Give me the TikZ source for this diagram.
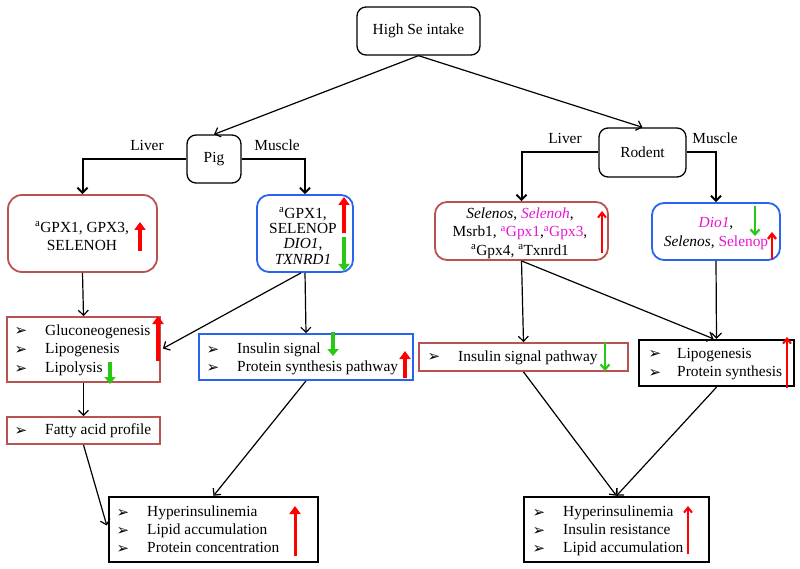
\documentclass[tikz,border=0pt]{standalone}
\usepackage{fontspec}
\setmainfont{Liberation Serif}
\newfontfamily\dvfont{DejaVu Sans}
\usetikzlibrary{arrows.meta,calc}
\definecolor{boxred}{RGB}{185,82,80}
\definecolor{boxblue}{RGB}{40,100,240}
\definecolor{mag}{RGB}{230,20,210}
\definecolor{arrred}{RGB}{255,0,0}
\definecolor{arrgreen}{RGB}{40,200,20}
\newcommand\bul{{\dvfont\fontsize{15}{15}\selectfont ➢}}
\begin{document}
\begin{tikzpicture}[x=1pt,y=-1pt,
  every node/.style={font=\fontsize{15.4}{18}\selectfont},
  rbox/.style={draw=boxred, line width=1.8pt, rounded corners=14pt, inner sep=0},
  bbox/.style={draw=boxblue, line width=1.8pt, rounded corners=12pt, inner sep=0},
  sqred/.style={draw=boxred, line width=1.8pt, inner sep=0},
  sqblue/.style={draw=boxblue, line width=1.8pt, inner sep=0},
  sqblack/.style={draw=black, line width=2.4pt, inner sep=0},
  kbox/.style={draw=black, line width=1.3pt, rounded corners=9pt, inner sep=0},
  conn/.style={line width=1.2pt, -{Straight Barb[length=5pt,width=10pt]}},
  branch/.style={line width=2pt, -{Straight Barb[length=5pt,width=10pt]}},
  lst/.style={anchor=west, inner sep=0, text height=10.5pt, text depth=3.5pt},
  bull/.style={inner sep=0},
  lbl/.style={inner sep=0},
  redthick/.style={draw=arrred, line width=3.5pt, -{Triangle[length=8pt,width=11pt]}},
  redthin/.style={draw=arrred, line width=2pt, -{Straight Barb[length=5pt,width=8pt]}},
  greenthick/.style={draw=arrgreen, line width=3.2pt, -{Triangle[length=7pt,width=11pt]}},
  greenthin/.style={draw=arrgreen, line width=2.2pt, -{Straight Barb[length=5pt,width=9pt]}}
]
\useasboundingbox (0,0) rectangle (800,569);

% top boxes
\node[kbox, minimum width=123pt, minimum height=48pt] (high) at (418.5,31) {High Se intake};
\node[kbox, minimum width=54pt, minimum height=48pt] (pig) at (214,159) {Pig};
\node[kbox, minimum width=87pt, minimum height=49pt] (rod) at (642.5,152.5) {Rodent};

% labels
\node[lbl] (l1) at (147,145) {Liver};
\node[lbl] (m1) at (277,145) {Muscle};
\node[lbl] (l2) at (565,138) {Liver};
\node[lbl] (m2) at (715,138) {Muscle};

% pig boxes
\node[rbox, minimum width=149pt, minimum height=77pt] (pl) at (82.5,233.5) {};
\node[bbox, minimum width=96pt, minimum height=77pt] (pm) at (305,233.5) {};
\node[sqred, minimum width=153pt, minimum height=65pt] (gl) at (83.5,349.5) {};
\node[sqblue, minimum width=214pt, minimum height=46pt] (is) at (306,357) {};
\node[sqred, minimum width=153pt, minimum height=27pt] (fa) at (83.5,430.5) {};
\node[sqblack, minimum width=209pt, minimum height=65pt] (bl) at (213.5,529.5) {};

% rodent boxes
\node[rbox, rounded corners=12pt, minimum width=173pt, minimum height=58pt] (rl) at (521.5,231) {};
\node[bbox, minimum width=128pt, minimum height=57pt] (rm) at (716,231.5) {};
\node[sqred, minimum width=209pt, minimum height=28pt] (rip) at (523.5,357) {};
\node[sqblack, minimum width=155pt, minimum height=46pt] (lp) at (716.5,363) {};
\node[sqblack, minimum width=185pt, minimum height=65pt] (br) at (616.5,529.5) {};

% box texts
\node[align=center, inner sep=0] (t1) at (82,236) {\textsuperscript{a}GPX1, GPX3,\\SELENOH};
\node[align=center, inner sep=0, font=\fontsize{15.4}{15.3}\selectfont] (t2) at (303,236) {\textsuperscript{a}GPX1,\\SELENOP\\\textit{DIO1},\\\textit{TXNRD1}};
\node[align=center, inner sep=0, font=\fontsize{15.4}{18.5}\selectfont] (t3) at (520,233) {\textit{Selenos}, \textcolor{mag}{\textit{Selenoh}},\\Msrb1, \textcolor{mag}{\textsuperscript{a}Gpx1},\textcolor{mag}{\textsuperscript{a}Gpx3},\\\textsuperscript{a}Gpx4, \textsuperscript{a}Txnrd1};
\node[align=center, inner sep=0, font=\fontsize{15.4}{19}\selectfont] (t4) at (716,234) {\textcolor{mag}{\textit{Dio1}},\\\textit{Selenos}, \textcolor{mag}{Selenop}};

% bullet lists
\foreach \y/\t [count=\i] in {332/Gluconeogenesis,350/Lipogenesis,369/Lipolysis}{
  \node[bull] (gb\i) at (21,\y) {\bul};
  \node[lst] (gt\i) at (45,\y) {\t};
}
\node[bull] (fb) at (21,431) {\bul};
\node[lst] (ft) at (45,431) {Fatty acid profile};
\foreach \y/\t [count=\i] in {350/Insulin signal,368/Protein synthesis pathway}{
  \node[bull] (ib\i) at (213,\y) {\bul};
  \node[lst] (it\i) at (237,\y) {\t};
}
\foreach \y/\t [count=\i] in {513/Hyperinsulinemia,531/Lipid accumulation,549/Protein concentration}{
  \node[bull] (bb\i) at (123,\y) {\bul};
  \node[lst] (bt\i) at (147,\y) {\t};
}
\node[bull] (rb) at (434,358) {\bul};
\node[lst] (rt) at (458,358) {Insulin signal pathway};
\foreach \y/\t [count=\i] in {355/Lipogenesis,373/Protein synthesis}{
  \node[bull] (lb\i) at (655,\y) {\bul};
  \node[lst] (lt\i) at (677,\y) {\t};
}
\foreach \y/\t [count=\i] in {513/Hyperinsulinemia,531/Insulin resistance,549/Lipid accumulation}{
  \node[bull] (cb\i) at (539,\y) {\bul};
  \node[lst] (ct\i) at (563,\y) {\t};
}

% connectors
\draw[conn] (high.south) -- (pig.north);
\draw[conn] (high.south) -- (rod.north);
\draw[branch] (pig.west) -| (pl.north);
\draw[branch] (pig.east) -| (pm.north);
\draw[branch] (rod.west) -| (rl.north);
\draw[branch] (rod.east) -| (rm.north);
\draw[conn] (pl.south) -- (gl.north);
\draw[conn] ($(pm.south)+(-4,0)$) -- ($(gl.east)+(2,-1)$);
\draw[conn] (pm.south) -- (is.north);
\draw[conn] (gl.south) -- (fa.north);
\draw[conn] (fa.south) -- ($(bl.west)+(-1,-4)$);
\draw[conn] (is.south) -- (bl.north);
\draw[conn] (rl.south) -- (rip.north);
\draw[conn] (rl.south) -- ($(lp.north)+(-3,0)$);
\draw[conn] (rm.south) -- (lp.north);
\draw[conn] (rip.south) -- (br.north);
\draw[conn] (lp.south) -- (br.north);

% indicator arrows
\draw[redthick] (140,251) -- (140,222);
\draw[redthick] (344,233) -- (344,197);
\draw[greenthick] (344,237) -- (344,271);
\draw[redthick, line width=4.5pt] (158,361) -- (158,316);
\draw[greenthick] (110,362) -- (110,384);
\draw[greenthick] (333,332) -- (333,356);
\draw[redthick] (405,378) -- (405,351);
\draw[redthin] (602,253) -- (602,211);
\draw[greenthin] (755,206) -- (755,236);
\draw[redthin, line width=2.4pt] (772,259) -- (772,232);
\draw[greenthin] (605,342) -- (605,371);
\draw[redthin] (787,388) -- (787,337);
\draw[redthick, line width=3pt] (295,556) -- (295,506);
\draw[redthin] (688,554) -- (688,506);
\end{tikzpicture}
\end{document}
